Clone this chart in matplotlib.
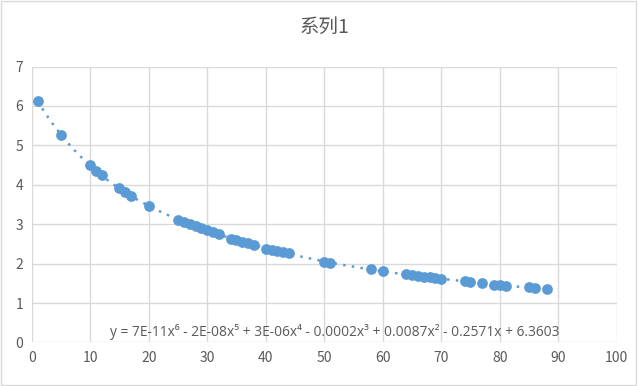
import matplotlib
matplotlib.use('Agg')
import matplotlib.pyplot as plt
from matplotlib.patches import Rectangle
import numpy as np

plt.rcParams['font.family'] = ['Noto Sans CJK SC', 'DejaVu Sans']

# data
x_vals = [1, 5, 10, 11, 12, 15, 16, 17, 20, 25, 26, 27, 28, 29, 30, 31, 32,
          34, 35, 36, 37, 38, 40, 41, 42, 43, 44, 50, 51, 58, 60,
          64, 65, 66, 67, 68, 69, 70, 74, 75, 77, 79, 80, 81, 85, 86, 88]
y_vals = [6.13, 5.26, 4.49, 4.34, 4.24, 3.92, 3.81, 3.71, 3.46, 3.10, 3.05, 3.00,
          2.95, 2.90, 2.85, 2.80, 2.75, 2.63, 2.60, 2.56, 2.52, 2.48, 2.38, 2.35,
          2.32, 2.29, 2.26, 2.05, 2.01, 1.86, 1.81, 1.73, 1.71, 1.69, 1.67, 1.65,
          1.63, 1.61, 1.56, 1.54, 1.50, 1.47, 1.46, 1.44, 1.40, 1.39, 1.35]
title = '系列1'
equation = ('y = 7E-11x\u2076 - 2E-08x\u2075 + 3E-06x\u2074 - 0.0002x\u00b3 '
            '+ 0.0087x\u00b2 - 0.2571x + 6.3603')

blue = '#5b9bd5'
grid = '#d9d9d9'
txt = '#595959'

fig = plt.figure(figsize=(6.38, 3.86), dpi=100)
ax = fig.add_axes([0.0497, 0.1127, 0.917, 0.715])

# polynomial trendline (order 6), like Excel
coef = np.polyfit(x_vals, y_vals, 6)
xs = np.linspace(min(x_vals), max(x_vals), 300)
ax.plot(xs, np.polyval(coef, xs), linestyle=(0, (1, 2.5)), color=blue,
        linewidth=1.8, zorder=2)
ax.scatter(x_vals, y_vals, s=60, color=blue, zorder=3, linewidths=0)

ax.set_xlim(0, 100)
ax.set_ylim(0, 7)
ax.set_xticks(range(0, 101, 10))
ax.set_yticks(range(0, 8))
ax.grid(True, color=grid, linewidth=1)
ax.set_axisbelow(True)
for s in ax.spines.values():
    s.set_visible(False)
ax.tick_params(length=0, labelsize=10, colors=txt, pad=6)

ax.set_title(title, fontsize=14, color=txt, pad=24)
ax.text(51.8, 0.27, equation, fontsize=9.9, color=txt, ha='center', va='center',
        family=['Open Sans', 'DejaVu Sans'])

fig.patches.append(Rectangle((0.002, 0.003), 0.995, 0.994, transform=fig.transFigure,
                             fill=False, edgecolor=grid, linewidth=1))

plt.savefig('out.png')
plt.close()
